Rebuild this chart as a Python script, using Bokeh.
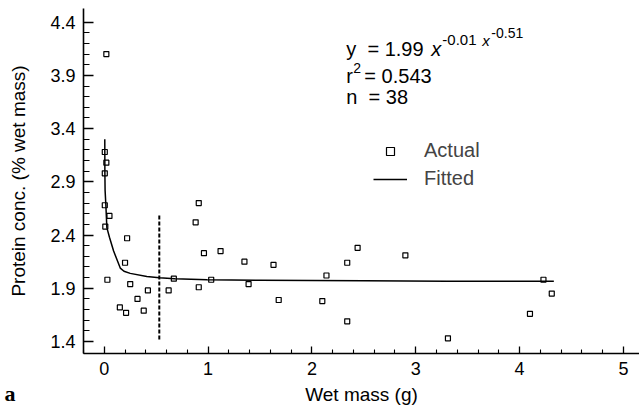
import numpy as np
from bokeh.plotting import figure
from bokeh.models import Range1d, FixedTicker, Label, Legend, LegendItem, PrintfTickFormatter, Title
from bokeh.embed import file_html
from bokeh.resources import INLINE

# ---- data ----
wet_mass = [0.02, 0.005, 0.02, 0.005, 0.005, 0.05, 0.01, 0.22, 0.20, 0.03,
            0.25, 0.42, 0.32, 0.15, 0.21, 0.38, 0.62, 0.67, 0.91, 0.91,
            0.88, 0.96, 1.12, 1.35, 1.03, 1.39, 1.63, 1.68, 2.10, 2.14,
            2.34, 2.44, 2.34, 2.90, 3.31, 4.10, 4.23, 4.31]
protein = [4.10, 3.18, 3.08, 2.98, 2.68, 2.58, 2.48, 2.37, 2.14, 1.98,
           1.94, 1.88, 1.80, 1.72, 1.67, 1.69, 1.88, 1.99, 1.91, 2.70,
           2.52, 2.23, 2.25, 2.15, 1.98, 1.94, 2.12, 1.79, 1.78, 2.02,
           2.14, 2.28, 1.59, 2.21, 1.43, 1.66, 1.98, 1.85]

fit_mass = [0.005, 0.006, 0.008, 0.015, 0.025, 0.05, 0.09, 0.154, 0.19, 0.25,
            0.41, 0.53, 0.68, 0.99, 1.5, 2.5, 3.3, 4.33]
fit_protein = [3.30, 2.98, 2.82, 2.69, 2.47, 2.38, 2.25, 2.09, 2.06, 2.04,
               2.01, 2.00, 1.99, 1.98, 1.975, 1.97, 1.965, 1.965]

cut_x = [0.53, 0.53]
cut_y = [1.42, 2.60]

x_ticks = [0, 1, 2, 3, 4, 5]
y_ticks = [1.4, 1.9, 2.4, 2.9, 3.4, 3.9, 4.4]

FONT = "Liberation Sans"

# pixel -> data helpers (for annotation placement only)
def dx(px):
    return (px - 104) / 103.8

def dy(py):
    return 1.4 + (341 - py) / 106.7

p = figure(width=639, height=414, output_backend="svg", toolbar_location=None,
           x_range=Range1d(-0.2, 5.155), y_range=Range1d(1.2875, 4.528),
           min_border_left=83, min_border_right=0, min_border_top=8, min_border_bottom=61)
p.outline_line_color = None
p.grid.visible = False
p.background_fill_color = "white"

x_minor = [round(v, 2) for v in np.arange(-0.2, 5.15, 0.2) if abs(v - round(v)) > 1e-6]
y_minor = [round(v, 2) for v in np.arange(1.4, 4.45, 0.1)]
p.xaxis.ticker = FixedTicker(ticks=x_ticks, minor_ticks=x_minor)
p.yaxis.ticker = FixedTicker(ticks=y_ticks, minor_ticks=y_minor)
p.yaxis.formatter = PrintfTickFormatter(format="%.1f")

for ax in (p.xaxis, p.yaxis):
    ax.axis_line_color = "black"
    ax.axis_line_width = 1.6
    ax.major_tick_line_color = "black"
    ax.minor_tick_line_color = "black"
    ax.major_tick_line_width = 1.3
    ax.minor_tick_line_width = 1.1
    ax.major_tick_out = 0
    ax.minor_tick_out = 0
    ax.major_label_text_font = FONT
    ax.major_label_text_font_size = "18px"
    ax.major_label_text_color = "black"
    ax.axis_label_text_font = FONT
    ax.axis_label_text_font_size = "19px"
    ax.axis_label_text_font_style = "normal"
    ax.axis_label_text_color = "black"

p.xaxis.major_tick_in = 7
p.xaxis.minor_tick_in = 4
p.yaxis.major_tick_in = 10
p.yaxis.minor_tick_in = 6
p.xaxis.major_label_standoff = 8
p.yaxis.major_label_standoff = 8
p.xaxis.axis_label = "Wet mass (g)"
p.xaxis.axis_label_standoff = 6
p.yaxis.axis_label = "Protein conc. (% wet mass)"
p.yaxis.axis_label_standoff = 18

sc = p.scatter(wet_mass, protein, marker="square", size=5, fill_color="white",
               line_color="black", line_width=1.2)
ln = p.line(fit_mass, fit_protein, line_color="black", line_width=1.5)
p.line(cut_x, cut_y, line_color="black", line_width=2, line_dash="4 2")

legend = Legend(items=[LegendItem(label="Actual", renderers=[sc]),
                       LegendItem(label="Fitted", renderers=[ln])],
                location=(290, 163), border_line_color=None, background_fill_alpha=0,
                padding=0, margin=0, spacing=5, glyph_width=34, glyph_height=20,
                label_standoff=17, label_text_font=FONT, label_text_font_size="20px",
                label_height=20)
p.add_layout(legend)

def lab(text, px, py, size, style="normal", font=FONT):
    p.add_layout(Label(x=dx(px), y=dy(py), text=text, text_font=font,
                       text_font_size=size, text_font_style=style,
                       text_baseline="alphabetic", text_align="left", text_color="black"))

lab("y\u00a0 = 1.99", 346, 48, "20px")
lab("x", 431, 48, "20px", "italic")
lab("-0.01", 442, 39, "15px")
lab("x", 482, 39, "15px", "italic")
lab("-0.51", 491, 32, "14px")
lab("r", 346, 75, "20px")
lab("2", 353, 67, "14px")
lab("= 0.543", 364, 75, "20px")
lab("n\u00a0 = 38", 346, 96, "20px")

panel_title = Title(text="a", align="left", offset=-79, standoff=-54,
                    vertical_align="top",
                    text_font="Liberation Serif", text_font_size="22px",
                    text_font_style="bold", text_color="black")
p.add_layout(panel_title, "below")

open("out.html", "w").write(file_html(p, INLINE))
